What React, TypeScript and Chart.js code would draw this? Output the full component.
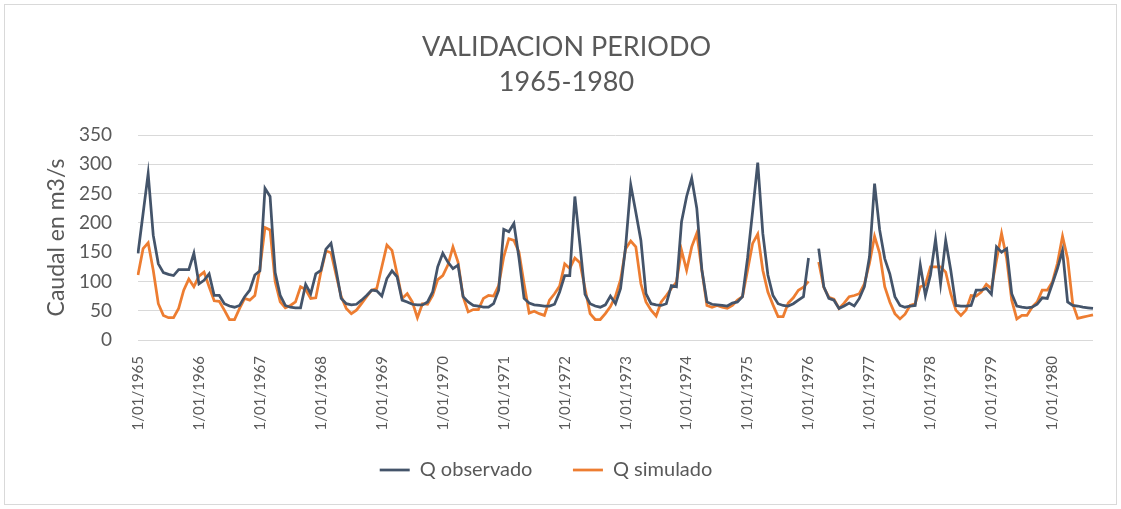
import { useEffect, useRef } from "react";
import { Chart, registerables } from "chart.js";

Chart.register(...registerables);

const years = [1965, 1966, 1967, 1968, 1969, 1970, 1971, 1972, 1973, 1974, 1975, 1976, 1977, 1978, 1979, 1980];
const months = ["01", "02", "03", "04", "05", "06", "07", "08", "09", "10", "11", "12"];
const monthCount = 189;
const categories: string[] = years.flatMap((y) => months.map((m) => `1/${m}/${y}`)).slice(0, monthCount);

const qObservado: (number | null)[] = [
  148, 216, 284, 179, 130, 115, 112, 110, 120, 120, 120, 148,
  96, 102, 113, 76, 76, 62, 58, 56, 59, 74, 85, 111,
  118, 259, 245, 115, 76, 59, 56, 55, 55, 95, 79, 113,
  119, 155, 165, 119, 71, 62, 60, 61, 68, 76, 85, 84,
  75, 105, 118, 108, 68, 65, 61, 60, 60, 65, 82, 125,
  148, 133, 122, 128, 74, 65, 59, 58, 56, 56, 62, 85,
  189, 185, 199, 140, 71, 63, 60, 59, 58, 58, 61, 82,
  110, 110, 245, 163, 78, 62, 58, 56, 60, 75, 62, 88,
  160, 265, 218, 170, 79, 62, 60, 59, 62, 93, 91, 202,
  245, 276, 225, 120, 65, 61, 60, 59, 58, 63, 65, 74,
  140, 220, 303, 182, 111, 76, 62, 59, 58, 62, 68, 74,
  140, null, 156, 91, 71, 68, 54, 58, 63, 58, 71, 91,
  142, 267, 188, 139, 113, 74, 59, 56, 58, 59, 128, 76,
  111, 172, 96, 170, 119, 59, 58, 58, 59, 85, 85, 88,
  78, 159, 150, 156, 79, 58, 56, 55, 56, 61, 72, 71,
  96, 122, 153, 65, 59, 58, 56, 55, 54,
];

const qSimulado: (number | null)[] = [
  111, 156, 166, 119, 62, 42, 38, 38, 54, 85, 104, 91,
  109, 116, 91, 67, 66, 51, 35, 35, 54, 71, 68, 76,
  122, 192, 188, 100, 65, 55, 59, 65, 91, 86, 71, 72,
  116, 152, 149, 111, 74, 54, 45, 51, 62, 74, 85, 88,
  125, 162, 153, 113, 71, 79, 65, 38, 62, 61, 76, 103,
  110, 128, 159, 133, 74, 48, 52, 52, 71, 76, 75, 93,
  142, 173, 170, 150, 96, 46, 49, 45, 42, 68, 79, 92,
  130, 122, 140, 132, 88, 45, 35, 35, 45, 57, 75, 103,
  156, 169, 159, 96, 65, 51, 41, 65, 76, 88, 99, 153,
  119, 159, 182, 119, 59, 56, 59, 56, 54, 59, 68, 74,
  119, 165, 181, 119, 82, 60, 40, 40, 63, 72, 85, 90,
  100, null, 133, 90, 73, 70, 54, 63, 74, 76, 79, 96,
  131, 177, 148, 91, 65, 45, 36, 44, 59, 62, 91, 94,
  125, 125, 125, 116, 79, 51, 42, 51, 76, 75, 82, 95,
  88, 136, 182, 139, 68, 36, 42, 42, 56, 65, 85, 85,
  99, 131, 177, 139, 62, 37, 39, 41, 43,
];

const yMin = 0;
const yMax = 350;
const yStep = 50;

const textColor = "#595959";
const font = "Lato, 'Open Sans', sans-serif";

// Excel gives every legend entry the same slot width; trailing spaces emulate it.
const legendSlotSpaces = [4, 8];

export default function App() {
  const canvasRef = useRef<HTMLCanvasElement | null>(null);

  useEffect(() => {
    const canvas = canvasRef.current;
    if (!canvas) return;
    const chart = new Chart(canvas, {
      type: "line",
      data: {
        labels: categories,
        datasets: [
          {
            label: "Q observado",
            data: qObservado,
            borderColor: "#44546A",
            backgroundColor: "#44546A",
            borderWidth: 2.75,
            pointRadius: 0,
            tension: 0,
            spanGaps: false,
          },
          {
            label: "Q simulado",
            data: qSimulado,
            borderColor: "#ED7D31",
            backgroundColor: "#ED7D31",
            borderWidth: 2.75,
            pointRadius: 0,
            tension: 0,
            spanGaps: false,
          },
        ],
      },
      options: {
        responsive: false,
        animation: false,
        layout: { padding: { left: 40, right: 28, top: 0, bottom: 19 } },
        plugins: {
          title: {
            display: true,
            text: ["VALIDACION PERIODO", "1965-1980"],
            color: textColor,
            font: { family: font, size: 27, weight: "normal", lineHeight: "35px" },
            padding: { top: 29.5, bottom: 35.5 },
          },
          legend: {
            position: "bottom",
            labels: {
              usePointStyle: true,
              pointStyle: "line",
              pointStyleWidth: 30,
              color: textColor,
              font: { family: font, size: 20 },
              padding: 20,
              generateLabels: (c: any) => {
                const base = Chart.defaults.plugins.legend.labels.generateLabels(c);
                return base.map((item: any, i: number) => ({
                  ...item,
                  text: item.text + " ".repeat(legendSlotSpaces[i] || 0),
                }));
              },
            },
          },
          tooltip: { enabled: false },
        },
        scales: {
          x: {
            grid: { display: false },
            border: { display: false },
            ticks: {
              autoSkip: false,
              minRotation: 90,
              maxRotation: 90,
              padding: 8,
              color: textColor,
              font: { family: font, size: 15 },
              callback: (_v: any, i: number) => (i % 12 === 0 ? categories[i] : ""),
            },
            afterFit: (s: any) => {
              s.height = 100;
            },
          },
          y: {
            min: yMin,
            max: yMax,
            ticks: {
              stepSize: yStep,
              padding: 26,
              color: textColor,
              font: { family: font, size: 19 },
            },
            grid: { color: "#d9d9d9", lineWidth: 1, drawTicks: false },
            border: { display: false },
            title: {
              display: true,
              text: "Caudal en m3/s",
              color: textColor,
              font: { family: font, size: 23 },
              padding: { top: 3, bottom: 0 },
            },
            afterFit: (s: any) => {
              s.width = 98;
            },
          },
        },
      },
    });
    return () => chart.destroy();
  }, []);

  return (
    <div style={{ position: "fixed", left: 0, top: 0, width: 1121, height: 509, background: "#fff" }}>
      <canvas ref={canvasRef} width={1121} height={509} style={{ position: "absolute", left: 0, top: 0 }} />
      <div
        style={{
          position: "absolute",
          left: 4,
          top: 4,
          width: 1113,
          height: 501,
          border: "1px solid #d9d9d9",
          boxSizing: "border-box",
          pointerEvents: "none",
        }}
      />
    </div>
  );
}
